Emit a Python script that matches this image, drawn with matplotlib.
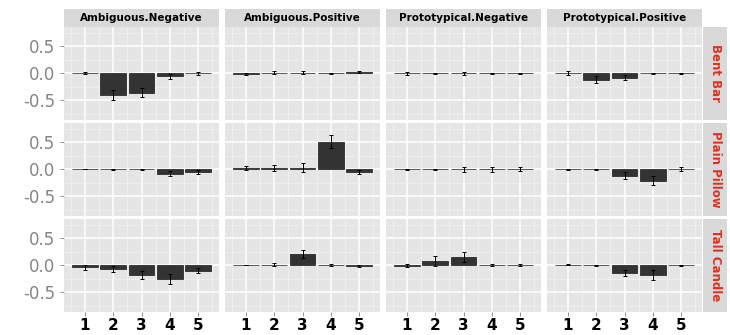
import matplotlib
matplotlib.use('Agg')
from matplotlib import pyplot as plt
from matplotlib.ticker import MultipleLocator

# facet layout: columns = condition, rows = object
conditions = ['Ambiguous.Negative', 'Ambiguous.Positive', 'Prototypical.Negative', 'Prototypical.Positive']
objects = ['Bent Bar', 'Plain Pillow', 'Tall Candle']
levels = [1, 2, 3, 4, 5]

# mean values, one list of 5 per condition, grouped by object
bent_bar_mean = [[0.0, -0.40, -0.36, -0.06, 0.0],
                 [-0.01, 0.01, 0.01, 0.0, 0.02],
                 [0.0, 0.0, 0.0, 0.0, 0.0],
                 [0.0, -0.12, -0.08, 0.0, 0.0]]
bent_bar_err = [[0.02, 0.09, 0.08, 0.05, 0.03],
                [0.02, 0.03, 0.03, 0.01, 0.02],
                [0.03, 0.01, 0.03, 0.01, 0.01],
                [0.04, 0.06, 0.05, 0.01, 0.01]]

plain_pillow_mean = [[0.0, 0.0, 0.0, -0.08, -0.05],
                     [0.02, 0.02, 0.03, 0.51, -0.05],
                     [0.0, 0.0, 0.0, 0.0, 0.0],
                     [0.0, 0.0, -0.12, -0.21, 0.0]]
plain_pillow_err = [[0.0, 0.005, 0.01, 0.05, 0.04],
                    [0.04, 0.05, 0.08, 0.12, 0.04],
                    [0.01, 0.01, 0.05, 0.05, 0.04],
                    [0.01, 0.01, 0.06, 0.08, 0.04]]

tall_candle_mean = [[-0.04, -0.07, -0.18, -0.25, -0.10],
                    [0.0, 0.01, 0.21, 0.01, -0.01],
                    [-0.01, 0.08, 0.15, 0.0, 0.0],
                    [0.01, 0.0, -0.14, -0.18, 0.0]]
tall_candle_err = [[0.05, 0.06, 0.08, 0.09, 0.05],
                   [0.0, 0.03, 0.08, 0.02, 0.02],
                   [0.03, 0.09, 0.09, 0.02, 0.02],
                   [0.01, 0.01, 0.06, 0.09, 0.01]]

means = [bent_bar_mean, plain_pillow_mean, tall_candle_mean]
errs = [bent_bar_err, plain_pillow_err, tall_candle_err]

W, H = 730, 335
fig = plt.figure(figsize=(W / 100, H / 100), dpi=100)
fig.patch.set_facecolor('white')

col_left = [64, 225, 386, 547]
panel_w = 155
row_top = [27, 123, 219]
panel_h = 93
strip_h = 18
strip_w = 24

def box(x, y, w, h):
    return [x / W, 1 - (y + h) / H, w / W, h / H]

panel_bg = '#E5E5E5'
strip_bg = '#D9D9D9'

for i in range(len(objects)):
    for j in range(len(conditions)):
        ax = fig.add_axes(box(col_left[j], row_top[i], panel_w, panel_h))
        ax.set_facecolor(panel_bg)
        ax.bar(levels, means[i][j], width=0.9, color='#333333', edgecolor='#1a1a1a', linewidth=0.5, zorder=3)
        ax.errorbar(levels, means[i][j], yerr=errs[i][j], fmt='none', ecolor='black',
                    elinewidth=0.7, capsize=1.5, capthick=0.7, zorder=4)
        ax.set_xlim(0.26, 5.74)
        ax.set_ylim(-0.87, 0.86)
        ax.xaxis.set_major_locator(MultipleLocator(1))
        ax.xaxis.set_minor_locator(MultipleLocator(0.5))
        ax.yaxis.set_major_locator(MultipleLocator(0.5))
        ax.yaxis.set_minor_locator(MultipleLocator(0.25))
        ax.grid(which='major', color='white', linewidth=1.1, zorder=0)
        ax.grid(which='minor', color='#F2F2F2', linewidth=0.5, zorder=0)
        ax.set_axisbelow(True)
        for s in ax.spines.values():
            s.set_visible(False)
        ax.tick_params(which='minor', length=0)
        ax.tick_params(which='major', length=3, color='#7F7F7F', width=0.6)
        if j == 0:
            ax.set_yticks([-0.5, 0.0, 0.5])
            ax.set_yticklabels(['-0.5', '0.0', '0.5'], fontsize=12, color='#858585')
        else:
            ax.tick_params(axis='y', which='major', length=0, labelleft=False)
        if i == len(objects) - 1:
            ax.set_xticks(levels)
            ax.set_xticklabels([str(v) for v in levels], fontsize=11, fontweight='bold', color='black')
            ax.tick_params(axis='x', pad=1)
        else:
            ax.tick_params(axis='x', which='major', length=0, labelbottom=False)

# top strips
for j, name in enumerate(conditions):
    sax = fig.add_axes(box(col_left[j], row_top[0] - strip_h, panel_w, strip_h))
    sax.set_facecolor(strip_bg)
    sax.set_xticks([])
    sax.set_yticks([])
    for s in sax.spines.values():
        s.set_visible(False)
    sax.text(0.5, 0.5, name, ha='center', va='center', fontsize=7.5, fontweight='bold',
             color='black', transform=sax.transAxes)

# right strips
for i, name in enumerate(objects):
    sax = fig.add_axes(box(col_left[-1] + panel_w + 1, row_top[i], strip_w, panel_h))
    sax.set_facecolor(strip_bg)
    sax.set_xticks([])
    sax.set_yticks([])
    for s in sax.spines.values():
        s.set_visible(False)
    sax.text(0.5, 0.5, name, ha='center', va='center', fontsize=8.5, fontweight='bold',
             color='#E0301E', rotation=-90, transform=sax.transAxes)

fig.savefig('out.png', dpi=100)
